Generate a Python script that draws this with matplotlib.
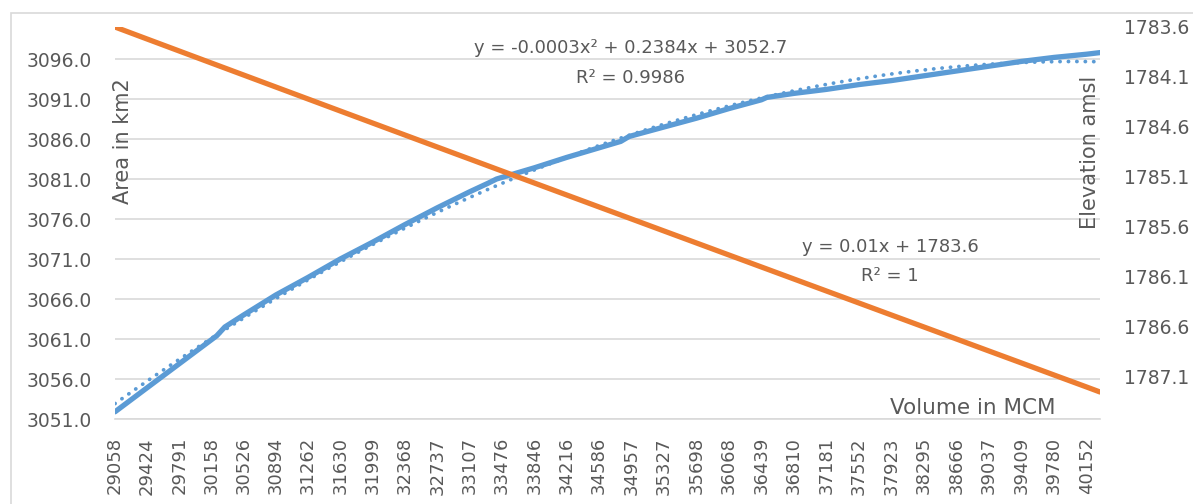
import numpy as np
import matplotlib
matplotlib.use('Agg')
from matplotlib import pyplot as plt
from matplotlib.patches import Rectangle

# x axis categories (volume in MCM) shown as tick labels
volume_ticks = [29058, 29424, 29791, 30158, 30526, 30894, 31262, 31630, 31999,
                32368, 32737, 33107, 33476, 33846, 34216, 34586, 34957, 35327,
                35698, 36068, 36439, 36810, 37181, 37552, 37923, 38295, 38666,
                39037, 39409, 39780, 40152]

# area series (extra points around the small steps)
area_volume = [29058, 29424, 29791, 30158, 30219, 30312, 30526, 30894, 31262,
               31630, 31999, 32368, 32737, 33107, 33323, 33415, 33476, 33846,
               34216, 34586, 34833, 34926, 34957, 35327, 35698, 36068, 36439,
               36501, 36810, 37181, 37552, 37923, 38295, 38666, 39037, 39409,
               39780, 40152, 40305]
area = [3051.9, 3054.9, 3057.9, 3060.9, 3061.4, 3062.5, 3064.0, 3066.5, 3068.7,
        3071.0, 3073.1, 3075.3, 3077.4, 3079.4, 3080.5, 3081.0, 3081.2, 3082.4,
        3083.7, 3084.9, 3085.7, 3086.3, 3086.4, 3087.5, 3088.6, 3089.8, 3090.9,
        3091.2, 3091.7, 3092.2, 3092.8, 3093.3, 3093.9, 3094.5, 3095.1, 3095.7,
        3096.2, 3096.6, 3096.8]

# elevation series (orange, right axis)
elev_volume = volume_ticks + [40305]
elevation = [1783.60, 1783.72, 1783.84, 1783.96, 1784.08, 1784.20, 1784.32,
             1784.44, 1784.56, 1784.68, 1784.80, 1784.92, 1785.04, 1785.16,
             1785.28, 1785.40, 1785.52, 1785.64, 1785.76, 1785.88, 1786.00,
             1786.12, 1786.24, 1786.36, 1786.48, 1786.60, 1786.72, 1786.84,
             1786.96, 1787.08, 1787.20, 1787.25]

area_ticks = [3051, 3056, 3061, 3066, 3071, 3076, 3081, 3086, 3091, 3096]
elev_ticks = [1783.6, 1784.1, 1784.6, 1785.1, 1785.6, 1786.1, 1786.6, 1787.1]

blue = '#5B9BD5'
orange = '#ED7D31'
grey_txt = '#595959'
grid_col = '#D9D9D9'

fig = plt.figure(figsize=(11.93, 5.04), dpi=100)
fig.patches.append(Rectangle((11 / 1193, -0.1), 1.2, 1.1 - 13 / 504,
                             transform=fig.transFigure, fill=False,
                             edgecolor=grid_col, linewidth=1.2))

ax = fig.add_axes([115 / 1193, 1 - 419 / 504, 985 / 1193, 392 / 504])
ax2 = ax.twinx()

# area + polynomial trendline
ax.plot(area_volume, area, color=blue, linewidth=3.8, solid_capstyle='round',
        solid_joinstyle='round', zorder=3)
coef = np.polyfit(area_volume, area, 2)
xs = np.linspace(area_volume[0], area_volume[-1], 400)
ax.plot(xs, np.polyval(coef, xs), color=blue, linewidth=2.7,
        linestyle=(0, (0.05, 2.2)), dash_capstyle='round', zorder=2)

# elevation on the inverted right axis
ax2.plot(elev_volume, elevation, color=orange, linewidth=3.8,
         solid_capstyle='round')

ax.set_xlim(area_volume[0], area_volume[-1])
ax.set_ylim(3051, 3100)
ax.set_yticks(area_ticks)
ax.set_yticklabels(['%.1f' % v for v in area_ticks])
ax.set_xticks(volume_ticks)
ax.set_xticklabels([str(v) for v in volume_ticks], rotation=90)
ax2.set_ylim(1787.52, 1783.6)
ax2.set_yticks(elev_ticks)
ax2.set_yticklabels(['%.1f' % v for v in elev_ticks])

ax.grid(axis='y', color=grid_col, linewidth=1.2)
ax.set_axisbelow(True)
for a in (ax, ax2):
    for s in a.spines.values():
        s.set_visible(False)
ax.spines['bottom'].set_visible(True)
ax.spines['bottom'].set_color(grid_col)
ax.spines['bottom'].set_linewidth(1.2)

ax.tick_params(axis='y', length=0, pad=17, labelsize=13.5, labelcolor=grey_txt)
ax.tick_params(axis='x', length=0, pad=13, labelsize=13, labelcolor=grey_txt)
ax2.tick_params(axis='y', length=0, pad=17, labelsize=13.5, labelcolor=grey_txt)

# axis titles sit inside the plot area like in the original
ax.text(0.008, 0.709, 'Area in km2', transform=ax.transAxes, rotation=90,
        ha='center', va='center', fontsize=15, color=grey_txt)
ax.text(0.99, 0.679, 'Elevation amsl', transform=ax.transAxes, rotation=90,
        ha='center', va='center', fontsize=15, color=grey_txt)
ax.text(0.871, 0.028, 'Volume in MCM', transform=ax.transAxes,
        ha='center', va='center', fontsize=15.5, color=grey_txt)

# trendline labels
ax.text(0.523, 0.946, 'y = -0.0003x² + 0.2384x + 3052.7', transform=ax.transAxes,
        ha='center', va='center', fontsize=13, color=grey_txt)
ax.text(0.523, 0.870, 'R² = 0.9986', transform=ax.transAxes,
        ha='center', va='center', fontsize=13, color=grey_txt)
ax.text(0.787, 0.4395, 'y = 0.01x + 1783.6', transform=ax.transAxes,
        ha='center', va='center', fontsize=13, color=grey_txt)
ax.text(0.787, 0.365, 'R² = 1', transform=ax.transAxes,
        ha='center', va='center', fontsize=13, color=grey_txt)

fig.savefig('out.png', dpi=100)
